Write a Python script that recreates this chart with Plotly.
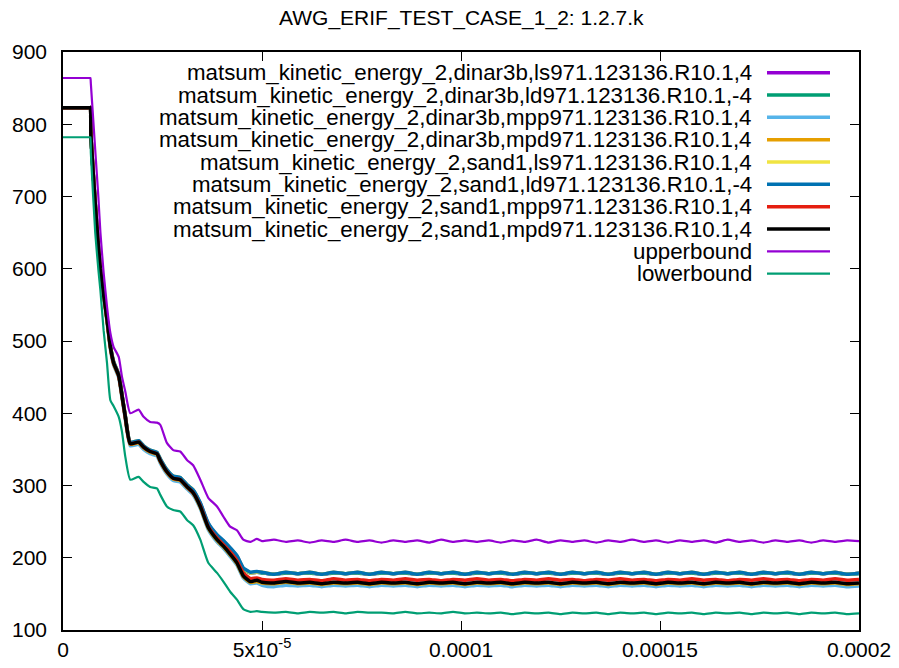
import plotly.graph_objects as go

# ---------------------------------------------------------------- data
# sample times in microseconds (descent, then plateau)
t_descent = [0, 6.8, 6.9, 7.0, 8.1, 8.9, 9.4, 10.2, 11.05, 11.9, 12.7, 14.0,
             14.8, 15.65, 16.9, 19.0, 20.25, 21.9, 23.6, 24.45, 26.1, 27.7,
             29.45, 31.2, 32.7, 34.5, 36.5, 38.7, 40.3, 42.0, 43.7, 45.3,
             47.1, 48.7]
t_plateau = [50, 53, 56, 59, 62, 65, 68, 71, 74, 77, 80, 83, 86, 89, 92, 95,
             98, 101, 104, 107, 110, 113, 116, 119, 122, 125, 128, 131, 134,
             137, 140, 143, 146, 149, 152, 155, 158, 161, 164, 167, 170, 173,
             176, 179, 182, 185, 188, 191, 194, 197, 200]

dinar3b_ls = [823, 823, 823, 785, 690, 631, 601, 566, 531, 493, 471, 453, 426,
              396, 359, 361, 354, 348, 345, 336, 321, 312, 310, 300, 293, 275,
              247, 231, 223, 213, 202, 185, 179, 180,
              179.5, 177, 179.5, 178, 179.5, 177, 179.5, 178, 179.5, 177,
              179.5, 178, 179.5, 177, 179.5, 178, 179.5, 177, 179.5, 178,
              179.5, 177, 179.5, 178, 179.5, 177, 179.5, 178, 179.5, 177,
              179.5, 178, 179.5, 177, 179.5, 178, 179.5, 177, 179.5, 178,
              179.5, 177, 179.5, 178, 179.5, 177, 179.5, 178, 179.5, 177, 178.5]
dinar3b_ld = [823, 823, 823, 785, 690, 630, 600, 566, 531, 493, 471, 453, 426,
              396, 359, 361, 354, 348, 345, 336, 321, 312, 310, 300, 293, 274,
              246, 230, 222, 212, 201, 184, 179, 180,
              179, 177, 179, 178, 179, 177, 179, 178, 179, 177,
              179, 178, 179, 177, 179, 178, 179, 177, 179, 178,
              179, 177, 179, 178, 179, 177, 179, 178, 179, 177,
              179, 178, 179, 177, 179, 178, 179, 177, 179, 178,
              179, 177, 179, 178, 179, 177, 179, 178, 179, 177, 178]
dinar3b_mpp = [823, 823, 823, 785, 689, 628, 598, 562, 527, 489, 467, 449, 422,
               392, 355, 357, 350, 344, 341, 331, 316, 307, 305, 295, 287, 268,
               239, 222, 213, 202, 190, 172, 164, 165,
               162, 160, 162, 161, 162, 160, 162, 161, 162, 160,
               162, 161, 162, 160, 162, 161, 162, 160, 162, 161,
               162, 160, 162, 161, 162, 160, 162, 161, 162, 160,
               162, 161, 162, 160, 162, 161, 162, 160, 162, 161,
               162, 160, 162, 161, 162, 160, 162, 161, 162, 160, 161]
dinar3b_mpd = [823, 823, 823, 785, 690, 629, 599, 564, 529, 491, 469, 451, 424,
               394, 357, 359, 352, 346, 343, 333, 318, 309, 307, 297, 289, 270,
               241, 224, 215, 204, 192, 174, 166, 167,
               165, 164, 166, 164, 165, 163, 165, 164, 165, 163,
               165, 164, 165, 163, 165, 164, 165, 163, 165, 164,
               165, 163, 165, 164, 165, 163, 165, 164, 165, 163,
               165, 164, 165, 163, 165, 164, 165, 163, 165, 164,
               165, 163, 165, 164, 165, 163, 165, 164, 165, 163, 164]
sand1_ls = [823, 823, 823, 785, 690, 631, 601, 567, 532, 494, 472, 454, 427,
            397, 360, 362, 355, 349, 346, 337, 322, 313, 311, 301, 294, 275,
            247, 231, 223, 213, 202, 185, 179, 180,
            180, 177, 180, 178, 180, 177, 180, 178, 180, 177,
            180, 178, 180, 177, 180, 178, 180, 177, 180, 178,
            180, 177, 180, 178, 180, 177, 180, 178, 180, 177,
            180, 178, 180, 177, 180, 178, 180, 177, 180, 178,
            180, 177, 180, 178, 180, 177, 180, 178, 180, 177, 179]
sand1_ld = [823, 823, 823, 785, 690, 631, 601, 567, 532, 494, 472, 454, 427,
            397, 360, 362, 355, 349, 346, 337, 322, 313, 311, 301, 294, 276,
            248, 232, 224, 214, 203, 186, 180, 181,
            180, 177, 180, 178, 180, 177, 180, 178, 180, 177,
            180, 178, 180, 177, 180, 178, 180, 177, 180, 178,
            180, 177, 180, 178, 180, 177, 180, 178, 180, 177,
            180, 178, 180, 177, 180, 178, 180, 177, 180, 178,
            180, 177, 180, 178, 180, 177, 180, 178, 180, 177, 179]
sand1_mpp = [823, 823, 823, 785, 690, 630, 600, 565, 530, 492, 470, 452, 425,
             395, 358, 360, 353, 347, 344, 334, 319, 310, 308, 298, 290, 272,
             243, 227, 218, 208, 196, 179, 171, 172,
             170, 169, 171, 169, 170, 168, 171, 169, 170, 168,
             170, 169, 171, 169, 170, 168, 170, 169, 171, 169,
             170, 168, 170, 169, 171, 169, 170, 168, 170, 169,
             171, 169, 170, 168, 170, 169, 171, 169, 170, 168,
             170, 169, 171, 169, 170, 168, 170, 169, 171, 169, 170]
sand1_mpd = [823, 823, 823, 785, 690, 630, 600, 565, 530, 492, 470, 452, 425,
             395, 358, 360, 353, 347, 344, 334, 319, 310, 308, 298, 290, 271,
             242, 225, 216, 205, 193, 175, 167, 169,
             166, 165, 167, 165, 166, 164, 166, 165, 166, 164,
             166, 165, 166, 164, 166, 165, 166, 164, 166, 165,
             166, 164, 166, 165, 166, 164, 166, 165, 166, 164,
             166, 165, 166, 164, 166, 165, 166, 164, 166, 165,
             166, 164, 166, 165, 166, 164, 166, 165, 166, 164, 165]
upperbound = [864, 864, 864, 856, 764, 698, 650, 595, 548, 511, 492, 478, 451,
              430, 400, 405, 395, 388, 387, 384, 359, 349, 347, 335, 328, 308,
              283, 271, 257, 243, 238, 225, 222, 226,
              223, 225, 222, 224, 221, 224, 222, 225, 222, 224,
              221, 224, 222, 224, 221, 225, 222, 224, 222, 224,
              221, 224, 222, 225, 221, 224, 222, 224, 221, 224,
              222, 225, 222, 224, 221, 224, 222, 224, 221, 225,
              222, 224, 221, 224, 222, 224, 221, 224, 222, 224, 223]
lowerbound = [782, 782, 782, 760, 650, 598, 570, 515, 470, 418, 410, 395, 375,
              340, 308, 312, 305, 298, 296, 287, 271, 266, 264, 252, 245, 225,
              193, 179, 167, 153, 142, 129, 125, 126,
              125, 124, 125, 123, 125, 124, 125, 123, 125, 124,
              124, 123, 125, 123, 124, 123, 125, 123, 124, 123,
              124, 122, 124, 123, 124, 122, 124, 123, 124, 122,
              124, 123, 124, 122, 124, 123, 124, 122, 124, 123,
              124, 122, 124, 123, 124, 122, 124, 123, 124, 122, 123]

x_tick_vals = [0, 5e-5, 1e-4, 1.5e-4, 2e-4]
x_tick_text = ["0", "5x10<sup>-5</sup>", "0.0001", "0.00015", "0.0002"]
y_tick_vals = [100, 200, 300, 400, 500, 600, 700, 800, 900]

prefix = "matsum_kinetic_energy_2,"
series = [
    (prefix + "dinar3b,ls971.123136.R10.1,4", dinar3b_ls, "#9400D3", 3.5),
    (prefix + "dinar3b,ld971.123136.R10.1,-4", dinar3b_ld, "#009E73", 3.5),
    (prefix + "dinar3b,mpp971.123136.R10.1,4", dinar3b_mpp, "#56B4E9", 3.5),
    (prefix + "dinar3b,mpd971.123136.R10.1,4", dinar3b_mpd, "#E69F00", 3.5),
    (prefix + "sand1,ls971.123136.R10.1,4", sand1_ls, "#F0E442", 3.5),
    (prefix + "sand1,ld971.123136.R10.1,-4", sand1_ld, "#0072B2", 3.5),
    (prefix + "sand1,mpp971.123136.R10.1,4", sand1_mpp, "#E51E10", 3.5),
    (prefix + "sand1,mpd971.123136.R10.1,4", sand1_mpd, "#000000", 3.5),
    ("upperbound", upperbound, "#9400D3", 2.2),
    ("lowerbound", lowerbound, "#009E73", 2.2),
]

# ---------------------------------------------------------------- figure
W, H = 899, 668
ML, MR, MT, MB = 63, 40, 52, 38
PW, PH = W - ML - MR, H - MT - MB
FONT = "Liberation Sans, Arial, sans-serif"
FS = 21
KEY_FS = 22.3

times = [t * 1e-6 for t in t_descent + t_plateau]

fig = go.Figure()
for name, vals, color, width in series:
    fig.add_trace(go.Scatter(x=times, y=vals, mode="lines", name=name,
                             line=dict(color=color, width=width,
                                       shape="spline", smoothing=0.5),
                             showlegend=False, hoverinfo="skip"))


def paper_x(px):
    return (px - ML) / PW


def paper_y(py):
    return (H - MB - py) / PH


# key: right-aligned labels with line samples to their right
row0, row_step = 72.7, 22.33
annotations, shapes = [], []
for i, (name, _vals, color, width) in enumerate(series):
    yy = paper_y(row0 + i * row_step)
    annotations.append(dict(text=name, xref="paper", yref="paper",
                            x=paper_x(753), y=yy, xanchor="right",
                            yanchor="middle", showarrow=False, borderpad=0,
                            font=dict(family=FONT, size=KEY_FS, color="black")))
    shapes.append(dict(type="line", xref="paper", yref="paper",
                       x0=paper_x(767), x1=paper_x(830), y0=yy, y1=yy,
                       line=dict(color=color, width=width)))

annotations.append(dict(text="AWG_ERIF_TEST_CASE_1_2: 1.2.7.k",
                        xref="paper", yref="paper", x=0.5, y=paper_y(18),
                        xanchor="center", yanchor="middle", showarrow=False,
                        font=dict(family=FONT, size=FS, color="black")))

axis_style = dict(showgrid=False, zeroline=False, showline=True,
                  linecolor="black", linewidth=1.5, mirror="ticks",
                  ticks="inside", ticklen=9, tickwidth=1.2,
                  tickcolor="black", automargin=False,
                  tickfont=dict(family=FONT, size=FS, color="black"))

fig.update_layout(
    template="none",
    width=W, height=H, autosize=False,
    margin=dict(l=ML, r=MR, t=MT, b=MB, pad=0),
    paper_bgcolor="white", plot_bgcolor="white",
    showlegend=False,
    annotations=annotations, shapes=shapes,
    xaxis=dict(range=[0, 2e-4], tickvals=x_tick_vals, ticktext=x_tick_text,
               ticklabelstandoff=0, **axis_style),
    yaxis=dict(range=[100, 900], tickvals=y_tick_vals,
               ticklabelstandoff=10, **axis_style),
)

fig.write_html("out.html")
